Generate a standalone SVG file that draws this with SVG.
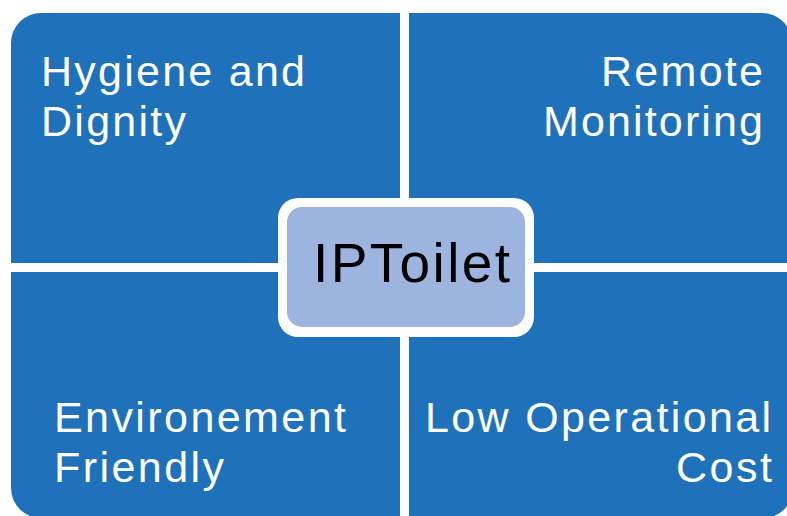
<svg xmlns="http://www.w3.org/2000/svg" width="787" height="516" viewBox="0 0 787 516">
<style>
.q{fill:#1F72B9}
.t{font-family:"Liberation Sans",Arial,sans-serif;font-size:43px;fill:#FFFFFF}
.c{font-family:"Liberation Sans",Arial,sans-serif;font-size:55px;fill:#000000}
</style>
<rect width="787" height="516" fill="#FFFFFF"/>
<g id="hygiene">
<path class="q" d="M11,43 A30,30 0 0 1 41,13 L400,13 L400,263 L11,263 Z"/>
<text class="t" x="41" y="86" textLength="264" lengthAdjust="spacing">Hygiene and</text>
<text class="t" x="41" y="136" textLength="145" lengthAdjust="spacing">Dignity</text>
</g>
<g id="remote">
<path class="q" d="M409,13 L762,13 A30,30 0 0 1 792,43 L792,263 L409,263 Z"/>
<text class="t" x="601" y="86" textLength="162" lengthAdjust="spacing">Remote</text>
<text class="t" x="543" y="136" textLength="220" lengthAdjust="spacing">Monitoring</text>
</g>
<g id="environment">
<path class="q" d="M11,272 L400,272 L400,518 L41,518 A30,30 0 0 1 11,488 Z"/>
<text class="t" x="54" y="432" textLength="292" lengthAdjust="spacing">Environement</text>
<text class="t" x="54" y="482" textLength="170" lengthAdjust="spacing">Friendly</text>
</g>
<g id="cost">
<path class="q" d="M409,272 L792,272 L792,490 A28,28 0 0 1 764,518 L409,518 Z"/>
<text class="t" x="425" y="432" textLength="346" lengthAdjust="spacing">Low Operational</text>
<text class="t" x="676" y="482" textLength="96" lengthAdjust="spacing">Cost</text>
</g>
<g id="iptoilet">
<rect x="278" y="198" width="256" height="139" rx="20" ry="20" fill="#FFFFFF"/>
<rect x="287" y="207" width="238" height="120" rx="15" ry="15" fill="#9DB4DE"/>
<text class="c" x="313" y="282" textLength="197" lengthAdjust="spacing">IPToilet</text>
</g>
<g id="connectors"></g>
</svg>
